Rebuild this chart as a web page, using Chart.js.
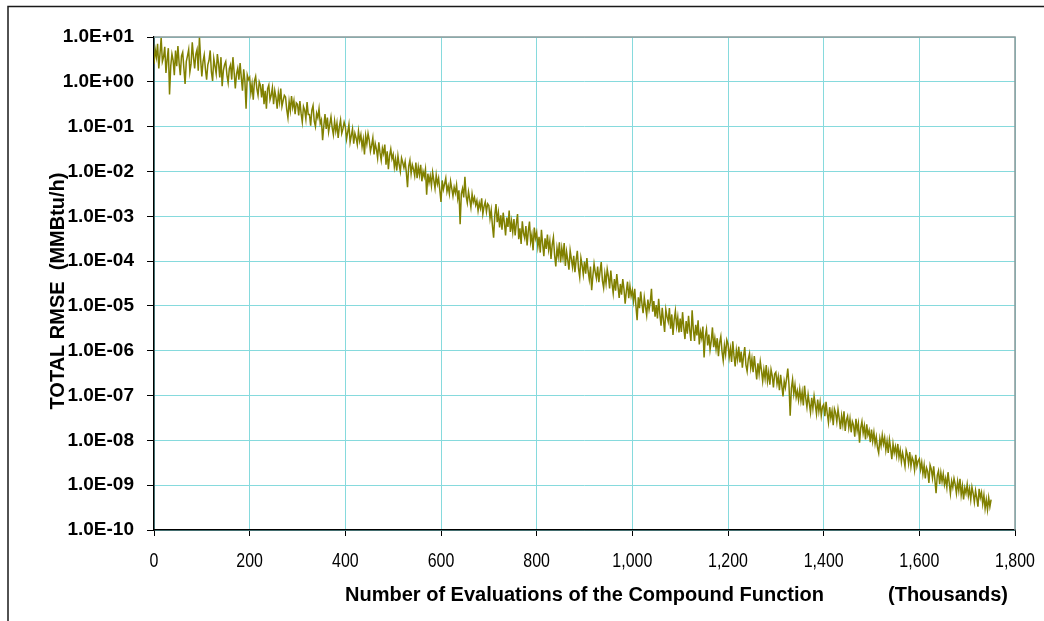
<!DOCTYPE html>
<html>
<head>
<meta charset="utf-8">
<title>TOTAL RMSE</title>
<script src="https://cdn.jsdelivr.net/npm/chart.js@4.4.1/dist/chart.umd.min.js"></script>
<style>
  html, body { margin: 0; padding: 0; background: #fff; }
  #wrap { position: relative; width: 1044px; height: 621px; }
</style>
</head>
<body>
<div id="wrap"><canvas id="rmseChart"></canvas></div>
<script>
// Number of evaluations (thousands)
const evaluationsThousands = [
  0, 2.5, 5, 7.5, 10, 12.5, 15, 17.5, 20, 22.5, 25, 27.5, 30, 32.5, 35, 37.5, 40, 42.5, 45, 47.5,
  50, 52.5, 55, 57.5, 60, 62.5, 65, 67.5, 70, 72.5, 75, 77.5, 80, 82.5, 85, 87.5, 90, 92.5, 95, 97.5,
  100, 102.5, 105, 107.5, 110, 112.5, 115, 117.5, 120, 122.5, 125, 127.5, 130, 132.5, 135, 137.5, 140, 142.5, 145, 147.5,
  150, 152.5, 155, 157.5, 160, 162.5, 165, 167.5, 170, 172.5, 175, 177.5, 180, 182.5, 185, 187.5, 190, 192.5, 195, 197.5,
  200, 202.5, 205, 207.5, 210, 212.5, 215, 217.5, 220, 222.5, 225, 227.5, 230, 232.5, 235, 237.5, 240, 242.5, 245, 247.5,
  250, 252.5, 255, 257.5, 260, 262.5, 265, 267.5, 270, 272.5, 275, 277.5, 280, 282.5, 285, 287.5, 290, 292.5, 295, 297.5,
  300, 302.5, 305, 307.5, 310, 312.5, 315, 317.5, 320, 322.5, 325, 327.5, 330, 332.5, 335, 337.5, 340, 342.5, 345, 347.5,
  350, 352.5, 355, 357.5, 360, 362.5, 365, 367.5, 370, 372.5, 375, 377.5, 380, 382.5, 385, 387.5, 390, 392.5, 395, 397.5,
  400, 402.5, 405, 407.5, 410, 412.5, 415, 417.5, 420, 422.5, 425, 427.5, 430, 432.5, 435, 437.5, 440, 442.5, 445, 447.5,
  450, 452.5, 455, 457.5, 460, 462.5, 465, 467.5, 470, 472.5, 475, 477.5, 480, 482.5, 485, 487.5, 490, 492.5, 495, 497.5,
  500, 502.5, 505, 507.5, 510, 512.5, 515, 517.5, 520, 522.5, 525, 527.5, 530, 532.5, 535, 537.5, 540, 542.5, 545, 547.5,
  550, 552.5, 555, 557.5, 560, 562.5, 565, 567.5, 570, 572.5, 575, 577.5, 580, 582.5, 585, 587.5, 590, 592.5, 595, 597.5,
  600, 602.5, 605, 607.5, 610, 612.5, 615, 617.5, 620, 622.5, 625, 627.5, 630, 632.5, 635, 637.5, 640, 642.5, 645, 647.5,
  650, 652.5, 655, 657.5, 660, 662.5, 665, 667.5, 670, 672.5, 675, 677.5, 680, 682.5, 685, 687.5, 690, 692.5, 695, 697.5,
  700, 702.5, 705, 707.5, 710, 712.5, 715, 717.5, 720, 722.5, 725, 727.5, 730, 732.5, 735, 737.5, 740, 742.5, 745, 747.5,
  750, 752.5, 755, 757.5, 760, 762.5, 765, 767.5, 770, 772.5, 775, 777.5, 780, 782.5, 785, 787.5, 790, 792.5, 795, 797.5,
  800, 802.5, 805, 807.5, 810, 812.5, 815, 817.5, 820, 822.5, 825, 827.5, 830, 832.5, 835, 837.5, 840, 842.5, 845, 847.5,
  850, 852.5, 855, 857.5, 860, 862.5, 865, 867.5, 870, 872.5, 875, 877.5, 880, 882.5, 885, 887.5, 890, 892.5, 895, 897.5,
  900, 902.5, 905, 907.5, 910, 912.5, 915, 917.5, 920, 922.5, 925, 927.5, 930, 932.5, 935, 937.5, 940, 942.5, 945, 947.5,
  950, 952.5, 955, 957.5, 960, 962.5, 965, 967.5, 970, 972.5, 975, 977.5, 980, 982.5, 985, 987.5, 990, 992.5, 995, 997.5,
  1000, 1002.5, 1005, 1007.5, 1010, 1012.5, 1015, 1017.5, 1020, 1022.5, 1025, 1027.5, 1030, 1032.5, 1035, 1037.5, 1040, 1042.5, 1045, 1047.5,
  1050, 1052.5, 1055, 1057.5, 1060, 1062.5, 1065, 1067.5, 1070, 1072.5, 1075, 1077.5, 1080, 1082.5, 1085, 1087.5, 1090, 1092.5, 1095, 1097.5,
  1100, 1102.5, 1105, 1107.5, 1110, 1112.5, 1115, 1117.5, 1120, 1122.5, 1125, 1127.5, 1130, 1132.5, 1135, 1137.5, 1140, 1142.5, 1145, 1147.5,
  1150, 1152.5, 1155, 1157.5, 1160, 1162.5, 1165, 1167.5, 1170, 1172.5, 1175, 1177.5, 1180, 1182.5, 1185, 1187.5, 1190, 1192.5, 1195, 1197.5,
  1200, 1202.5, 1205, 1207.5, 1210, 1212.5, 1215, 1217.5, 1220, 1222.5, 1225, 1227.5, 1230, 1232.5, 1235, 1237.5, 1240, 1242.5, 1245, 1247.5,
  1250, 1252.5, 1255, 1257.5, 1260, 1262.5, 1265, 1267.5, 1270, 1272.5, 1275, 1277.5, 1280, 1282.5, 1285, 1287.5, 1290, 1292.5, 1295, 1297.5,
  1300, 1302.5, 1305, 1307.5, 1310, 1312.5, 1315, 1317.5, 1320, 1322.5, 1325, 1327.5, 1330, 1332.5, 1335, 1337.5, 1340, 1342.5, 1345, 1347.5,
  1350, 1352.5, 1355, 1357.5, 1360, 1362.5, 1365, 1367.5, 1370, 1372.5, 1375, 1377.5, 1380, 1382.5, 1385, 1387.5, 1390, 1392.5, 1395, 1397.5,
  1400, 1402.5, 1405, 1407.5, 1410, 1412.5, 1415, 1417.5, 1420, 1422.5, 1425, 1427.5, 1430, 1432.5, 1435, 1437.5, 1440, 1442.5, 1445, 1447.5,
  1450, 1452.5, 1455, 1457.5, 1460, 1462.5, 1465, 1467.5, 1470, 1472.5, 1475, 1477.5, 1480, 1482.5, 1485, 1487.5, 1490, 1492.5, 1495, 1497.5,
  1500, 1502.5, 1505, 1507.5, 1510, 1512.5, 1515, 1517.5, 1520, 1522.5, 1525, 1527.5, 1530, 1532.5, 1535, 1537.5, 1540, 1542.5, 1545, 1547.5,
  1550, 1552.5, 1555, 1557.5, 1560, 1562.5, 1565, 1567.5, 1570, 1572.5, 1575, 1577.5, 1580, 1582.5, 1585, 1587.5, 1590, 1592.5, 1595, 1597.5,
  1600, 1602.5, 1605, 1607.5, 1610, 1612.5, 1615, 1617.5, 1620, 1622.5, 1625, 1627.5, 1630, 1632.5, 1635, 1637.5, 1640, 1642.5, 1645, 1647.5,
  1650, 1652.5, 1655, 1657.5, 1660, 1662.5, 1665, 1667.5, 1670, 1672.5, 1675, 1677.5, 1680, 1682.5, 1685, 1687.5, 1690, 1692.5, 1695, 1697.5,
  1700, 1702.5, 1705, 1707.5, 1710, 1712.5, 1715, 1717.5, 1720, 1722.5, 1725, 1727.5, 1730, 1732.5, 1735, 1737.5, 1740, 1742.5, 1745, 1747.5,
  1750
];

// log10 of total RMSE (MMBtu/h) at each evaluation count
const rmseLog10 = [
  0.40, 0.72, 0.55, 0.85, 0.30, 0.62, 0.98, 0.45, 0.55, 0.78, 0.20, 0.50, 0.75, -0.28, 0.35, 0.62, 0.48, 0.15, 0.70, 0.35,
  0.80, 0.42, 0.15, 0.58, 0.66, 0.30, -0.05, 0.45, 0.58, 0.72, 0.22, 0.40, 0.88, 0.55, 0.30, 0.62, 0.72, 0.25, 1.00, 0.50,
  0.12, 0.45, 0.60, 0.28, 0.05, 0.38, 0.48, 0.70, 0.22, 0.02, 0.52, 0.35, 0.18, 0.62, 0.40, 0.10, 0.55, -0.10, 0.25, 0.38,
  0.45, 0.15, -0.02, 0.30, 0.38, 0.05, 0.55, 0.22, -0.15, 0.18, 0.30, 0.05, 0.42, 0.10, -0.20, 0.28, 0.02, -0.60, 0.15, 0.05,
  0.10, -0.25, -0.05, -0.40, 0.02, 0.12, -0.15, -0.30, 0.00, -0.08, -0.35, -0.05, -0.50, -0.20, -0.60, -0.15, -0.07, -0.40, -0.30, -0.13,
  -0.50, -0.20, -0.35, -0.60, -0.25, -0.45, -0.15, -0.55, -0.42, -0.30, -0.34, -0.62, -0.80, -0.44, -0.64, -0.32, -0.57, -0.42, -0.72, -0.47,
  -0.50, -0.75, -0.43, -0.70, -0.90, -0.55, -0.63, -0.83, -0.45, -0.73, -0.73, -0.98, -0.63, -0.53, -0.88, -1.00, -0.70, -0.80, -0.60, -0.93,
  -0.85, -1.30, -0.98, -0.72, -1.05, -0.80, -1.12, -0.95, -0.78, -1.02, -1.18, -0.88, -1.10, -0.92, -1.25, -1.00, -0.85, -1.15, -1.05, -0.90,
  -1.00, -1.28, -1.12, -0.95, -1.35, -1.20, -1.05, -1.38, -1.15, -1.25, -1.40, -1.10, -1.32, -1.18, -1.45, -1.28, -1.62, -1.20, -1.38, -1.15,
  -1.30, -1.55, -1.42, -1.25, -1.62, -1.38, -1.50, -1.70, -1.35, -1.58, -1.75, -1.48, -1.60, -1.40, -1.85, -1.55, -1.95, -1.65, -1.50, -1.72,
  -1.62, -1.90, -1.72, -1.98, -1.65, -1.85, -2.00, -1.70, -1.80, -1.92, -1.78, -2.02, -2.35, -1.88, -1.75, -2.05, -1.85, -1.95, -2.10, -1.80,
  -2.15, -1.90, -2.08, -1.85, -2.22, -2.00, -2.12, -1.95, -2.52, -2.05, -2.25, -2.10, -2.32, -2.02, -2.20, -2.38, -2.08, -2.28, -2.15, -2.42,
  -2.68, -2.20, -2.40, -2.28, -2.15, -2.45, -2.32, -2.50, -2.22, -2.38, -2.55, -2.35, -2.48, -2.30, -2.60, -2.42, -3.18, -2.50, -2.38, -2.58,
  -2.12, -2.55, -2.70, -2.45, -2.62, -2.80, -2.50, -2.68, -2.58, -2.75, -2.65, -2.88, -2.70, -2.82, -2.60, -2.95, -2.78, -2.68, -2.90, -2.72,
  -2.76, -3.05, -2.86, -3.21, -3.48, -2.97, -2.73, -3.13, -2.92, -3.25, -2.98, -3.30, -2.92, -3.14, -3.43, -3.03, -3.24, -2.87, -3.35, -3.11,
  -3.35, -3.06, -3.43, -3.16, -2.95, -3.51, -3.27, -3.62, -3.11, -3.38, -3.49, -3.22, -3.65, -3.33, -3.12, -3.57, -3.41, -3.76, -3.25, -3.49,
  -3.36, -3.68, -3.46, -3.81, -3.30, -3.62, -3.89, -3.49, -3.73, -3.41, -3.74, -3.55, -3.95, -3.63, -3.47, -3.87, -4.12, -3.71, -3.90, -3.58,
  -4.03, -3.71, -3.92, -3.60, -4.11, -3.79, -3.98, -4.19, -3.76, -3.95, -4.14, -3.88, -4.25, -3.98, -3.77, -4.17, -4.36, -3.93, -4.09, -4.30,
  -4.01, -4.28, -3.93, -4.22, -4.41, -4.12, -4.65, -4.33, -4.06, -4.25, -4.39, -4.12, -4.47, -4.23, -4.02, -4.44, -4.60, -4.28, -4.50, -4.18,
  -4.34, -4.61, -4.21, -4.50, -4.72, -4.40, -4.66, -4.29, -4.56, -4.82, -4.51, -4.75, -4.40, -4.62, -4.95, -4.67, -4.46, -4.83, -4.56, -4.78,
  -4.65, -4.89, -4.62, -5.00, -5.32, -4.81, -5.05, -4.68, -4.94, -5.16, -4.81, -5.02, -5.21, -4.86, -5.08, -4.92, -4.62, -5.13, -4.89, -5.24,
  -4.98, -5.28, -4.84, -5.18, -5.44, -5.04, -5.32, -5.58, -5.08, -5.24, -5.35, -5.05, -5.51, -5.19, -5.65, -5.31, -5.11, -5.45, -5.25, -5.59,
  -5.28, -5.58, -5.14, -5.48, -5.74, -5.34, -5.62, -5.22, -5.54, -5.78, -5.10, -5.52, -5.78, -5.42, -5.66, -5.32, -5.86, -5.58, -5.72, -5.46,
  -6.15, -5.68, -5.52, -5.88, -5.64, -5.98, -5.78, -5.48, -5.92, -5.72, -5.96, -5.72, -6.12, -5.82, -5.68, -6.02, -6.22, -5.88, -6.08, -5.76,
  -5.85, -6.15, -5.95, -6.25, -5.79, -6.11, -6.35, -5.99, -6.19, -5.91, -6.26, -6.02, -6.38, -6.12, -5.92, -6.32, -6.46, -6.18, -6.06, -6.38,
  -6.18, -6.48, -6.12, -6.38, -6.64, -6.28, -6.52, -6.24, -6.44, -6.68, -6.42, -6.62, -6.32, -6.68, -6.48, -6.76, -6.42, -6.56, -6.82, -6.52,
  -6.48, -6.74, -6.58, -6.88, -6.54, -6.78, -7.02, -6.68, -6.82, -6.62, -6.40, -6.76, -7.45, -6.84, -6.64, -6.96, -6.76, -7.04, -6.90, -7.10,
  -6.86, -7.12, -6.92, -7.22, -6.78, -7.06, -7.26, -6.98, -7.18, -7.38, -7.05, -7.29, -7.01, -7.21, -7.41, -7.09, -7.35, -7.15, -7.45, -7.25,
  -7.20, -7.46, -7.14, -7.40, -7.60, -7.26, -7.50, -7.34, -7.66, -7.30, -7.39, -7.59, -7.31, -7.51, -7.75, -7.45, -7.65, -7.35, -7.79, -7.55,
  -7.46, -7.72, -7.52, -7.82, -7.58, -7.66, -7.92, -7.52, -7.78, -7.62, -8.05, -7.72, -7.58, -7.84, -7.68, -7.98, -7.64, -7.88, -7.78, -8.04,
  -7.76, -8.02, -7.82, -8.08, -7.92, -8.16, -8.28, -7.96, -8.12, -7.88, -8.08, -7.94, -8.22, -8.02, -8.28, -7.98, -8.18, -8.42, -8.08, -8.28,
  -8.14, -8.34, -8.08, -8.38, -8.22, -8.48, -8.28, -8.42, -8.58, -8.22, -8.32, -8.52, -8.26, -8.58, -8.38, -8.46, -8.66, -8.32, -8.58, -8.46,
  -8.41, -8.65, -8.49, -8.75, -8.55, -8.85, -8.61, -8.69, -8.95, -8.55, -8.64, -8.84, -8.58, -8.88, -9.18, -8.78, -8.68, -8.98, -8.72, -8.92,
  -8.75, -8.99, -8.85, -9.05, -8.71, -8.95, -9.19, -8.91, -9.05, -8.85, -8.98, -9.18, -8.92, -9.12, -8.86, -9.22, -9.02, -9.32, -9.06, -9.18,
  -8.98, -9.24, -9.08, -9.32, -9.04, -9.18, -9.38, -9.12, -9.28, -9.48, -9.08, -9.28, -9.16, -9.42, -9.22, -9.52, -9.32, -9.55, -9.28, -9.48,
  -9.32
];

// Axis ticks
const yTickValues = [1e1, 1e0, 1e-1, 1e-2, 1e-3, 1e-4, 1e-5, 1e-6, 1e-7, 1e-8, 1e-9, 1e-10];
const yTickLabels = ['1.0E+01', '1.0E+00', '1.0E-01', '1.0E-02', '1.0E-03', '1.0E-04',
                     '1.0E-05', '1.0E-06', '1.0E-07', '1.0E-08', '1.0E-09', '1.0E-10'];
const xTickLabels = ['0', '200', '400', '600', '800', '1,000', '1,200', '1,400', '1,600', '1,800'];

const yTitle = 'TOTAL RMSE  (MMBtu/h)';
const xTitle = 'Number of Evaluations of the Compound Function';
const xUnits = '(Thousands)';

const points = evaluationsThousands.map((x, i) => ({ x: x, y: Math.pow(10, rmseLog10[i]) }));

const boldFont = 'bold 20px "Liberation Sans", Arial, sans-serif';

// Outer frame, plot box edges, narrow x labels and axis captions
const decorations = {
    id: 'decorations',
    beforeDraw(chart) {
        const ctx = chart.ctx;
        ctx.save();
        ctx.strokeStyle = '#1a1a1a';
        ctx.lineWidth = 1.5;
        ctx.beginPath();
        ctx.moveTo(8, 621);
        ctx.lineTo(8, 6.5);
        ctx.lineTo(1044, 6.5);
        ctx.stroke();
        ctx.restore();
    },
    afterDraw(chart) {
        const ctx = chart.ctx;
        const a = chart.chartArea;
        const xs = chart.scales.x;
        ctx.save();
        // top and right edges of the plot box
        ctx.strokeStyle = '#8a9a9a';
        ctx.lineWidth = 1.5;
        ctx.beginPath();
        ctx.moveTo(a.left, a.top);
        ctx.lineTo(a.right, a.top);
        ctx.lineTo(a.right, a.bottom);
        ctx.stroke();

        // x tick labels in a condensed face
        ctx.fillStyle = '#000';
        ctx.font = '21px "Liberation Sans", Arial, sans-serif';
        ctx.textAlign = 'center';
        ctx.textBaseline = 'alphabetic';
        xs.ticks.forEach((t, i) => {
            ctx.save();
            ctx.translate(xs.getPixelForValue(t.value), a.bottom + 37);
            ctx.scale(0.76, 1);
            ctx.fillText(xTickLabels[i], 0, 0);
            ctx.restore();
        });

        ctx.font = boldFont;
        ctx.fillText(xTitle, (a.left + a.right) / 2, 601);
        ctx.textAlign = 'left';
        ctx.fillText(xUnits, 888, 601);

        ctx.translate(64, 291);
        ctx.rotate(-Math.PI / 2);
        ctx.textAlign = 'center';
        ctx.fillText(yTitle, 0, 0);
        ctx.restore();
    }
};

const ctx = document.getElementById('rmseChart').getContext('2d');
new Chart(ctx, {
    type: 'line',
    data: {
        datasets: [{
            label: 'TOTAL RMSE',
            data: points,
            borderColor: '#808000',
            borderWidth: 1.5,
            pointRadius: 0,
            tension: 0,
            fill: false
        }]
    },
    options: {
        responsive: true,
        maintainAspectRatio: false,
        animation: false,
        layout: { padding: { top: 37, right: 29, left: 0, bottom: 0 } },
        plugins: {
            legend: { display: false },
            tooltip: { enabled: false }
        },
        scales: {
            x: {
                type: 'linear',
                min: 0,
                max: 1800,
                ticks: { stepSize: 200, display: false },
                grid: { color: '#86dadd', lineWidth: 1, tickColor: '#000', tickLength: 6 },
                border: { color: '#000', width: 1.5 },
                afterFit(scale) {
                    scale.height = 91;
                    scale.paddingLeft = 0;
                    scale.paddingRight = 0;
                }
            },
            y: {
                type: 'logarithmic',
                min: 1e-10,
                max: 1e1,
                afterBuildTicks(scale) {
                    scale.ticks = yTickValues.map(v => ({ value: v, major: true }));
                },
                ticks: {
                    padding: 13,
                    color: '#000',
                    autoSkip: false,
                    font: { family: '"Liberation Sans", Arial, sans-serif', size: 19, weight: 'bold' },
                    callback: (v, i) => yTickLabels[i]
                },
                grid: { color: '#86dadd', lineWidth: 1, tickColor: '#000', tickLength: 7 },
                border: { color: '#000', width: 1.5 },
                afterFit(scale) { scale.width = 154; }
            }
        }
    },
    plugins: [decorations]
});
</script>
</body>
</html>
